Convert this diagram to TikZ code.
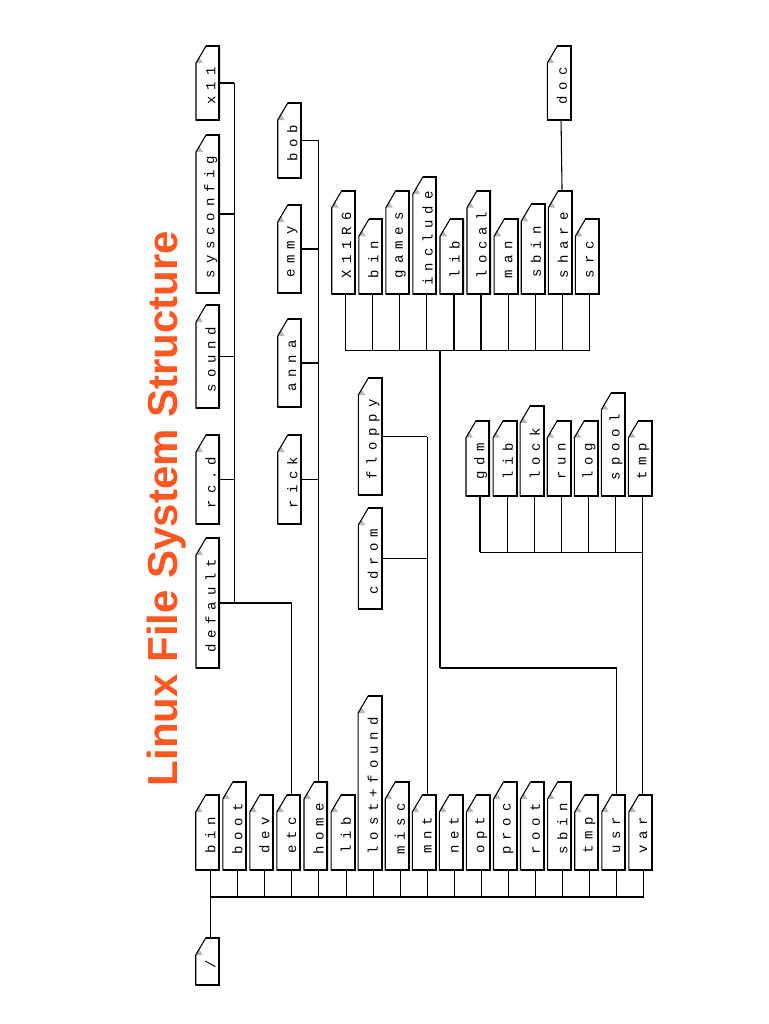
\documentclass[tikz,border=0pt]{standalone}
\usepackage{fontspec}
\newfontfamily\fnt[LetterSpace=42]{Liberation Mono}
\newfontfamily\titlefont{Liberation Sans}
\definecolor{titlecol}{RGB}{255,87,34}
\tikzset{
  filenode/.style={draw=none, inner sep=0pt, outer sep=0pt, minimum width=17.6pt},
  fnlabel/.style={xshift=2.2pt, yshift=-2.2pt, rotate=90, inner sep=0pt,
    font=\fnt\fontsize{10.5}{11}\selectfont},
  vline/.style={line width=0.8pt},
  hline/.style={line width=1.3pt},
  busline/.style={line width=2pt},
  fileedge/.style={line width=0.8pt, line join=miter},
  fileshadow/.style={line width=1.5pt, line join=miter},
  foldfill/.style={fill=gray!55},
}
\newcommand\mkfile[5]{%
  \node[filenode, minimum height={(#4-#3)*0.75pt}, label={[fnlabel]center:#5}] (#1) at ({#2+11.75},{(#3+#4)/2}) {};
  \fill[foldfill] ([shift={(0,17)}]#1.north west) -- ([shift={(3,11)}]#1.north west) -- ([shift={(7,17)}]#1.north west) -- cycle;
  \draw[fileedge] ([shift={(0,17)}]#1.north west) -- ([shift={(10,0)}]#1.north west) -- (#1.north east) -- (#1.south east) -- (#1.south west) -- cycle;
  \draw[fileshadow] ([shift={(10,0)}]#1.north west) -- (#1.north east) -- (#1.south east) -- (#1.south west);
}
\begin{document}
\begin{tikzpicture}[x=0.75pt,y=-0.75pt]
\fill[white] (0,0) rectangle (768,1024);
\useasboundingbox (0,0) rectangle (768,1024);

% title
\node[font=\titlefont\bfseries\fontsize{31.5}{36}\selectfont, text=titlecol, rotate=90, anchor=base, inner sep=0pt] (title) at (177,508.5) {Linux File System Structure};

% root
\mkfile{slash}{195.7}{938}{985}{/}

% main column
\mkfile{bin}{195.7}{795}{870}{bin}
\mkfile{boot}{222.8}{782}{870}{boot}
\mkfile{dev}{249.8}{795}{870}{dev}
\mkfile{etc}{276.9}{795}{870}{etc}
\mkfile{home}{304.0}{782}{870}{home}
\mkfile{lib}{331.1}{795}{870}{lib}
\mkfile{lostfound}{358.1}{696}{870}{lost+found}
\mkfile{misc}{385.2}{782}{870}{misc}
\mkfile{mnt}{412.3}{795}{870}{mnt}
\mkfile{net}{439.3}{795}{870}{net}
\mkfile{opt}{466.4}{795}{870}{opt}
\mkfile{proc}{493.5}{782}{870}{proc}
\mkfile{root}{520.5}{782}{870}{root}
\mkfile{sbin}{547.6}{782}{870}{sbin}
\mkfile{tmp}{574.7}{795}{870}{tmp}
\mkfile{usr}{601.8}{795}{870}{usr}
\mkfile{var}{628.8}{795}{870}{var}

% etc subtree
\mkfile{x11}{196}{46}{120}{x11}
\mkfile{sysconfig}{196}{135}{293}{sysconfig}
\mkfile{sound}{196}{305}{408}{sound}
\mkfile{rcd}{196}{435}{524}{rc.d}
\mkfile{default}{196}{538}{668}{default}

% home subtree
\mkfile{bob}{277.7}{103}{178}{bob}
\mkfile{emmy}{277.7}{205}{293}{emmy}
\mkfile{anna}{277.7}{319}{407}{anna}
\mkfile{rick}{277.7}{435}{524}{rick}

% mnt subtree
\mkfile{floppy}{358.3}{378}{495}{floppy}
\mkfile{cdrom}{358.3}{508}{609}{cdrom}

% usr subtree
\mkfile{x11r6}{331.7}{190.7}{294}{X11R6}
\mkfile{ubin}{358.8}{219.3}{294}{bin}
\mkfile{games}{385.8}{190.7}{294}{games}
\mkfile{include}{412.9}{177}{294}{include}
\mkfile{ulib}{440.0}{219.3}{294}{lib}
\mkfile{local}{467.0}{190.7}{294}{local}
\mkfile{man}{494.1}{219.3}{294}{man}
\mkfile{usbin}{521.2}{204.3}{294}{sbin}
\mkfile{share}{548.3}{190.7}{294}{share}
\mkfile{src}{575.3}{219.3}{294}{src}
\mkfile{doc}{547.3}{46}{120}{doc}

% var subtree
\mkfile{gdm}{466.0}{420.7}{496}{gdm}
\mkfile{vlib}{493.1}{420.7}{496}{lib}
\mkfile{lock}{520.1}{406}{496}{lock}
\mkfile{run}{547.2}{420.7}{496}{run}
\mkfile{log}{574.3}{420.7}{496}{log}
\mkfile{spool}{601.3}{392.7}{496}{spool}
\mkfile{vtmp}{628.4}{420.7}{496}{tmp}

% ---- connectors ----
\coordinate (mb) at (0,897);
\foreach \n in {bin,boot,dev,etc,home,lib,lostfound,misc,mnt,net,opt,proc,root,sbin,tmp,usr,var}
  \draw[vline] ([xshift=2.4pt]\n.south) -- ([xshift=2.4pt]\n.south |- mb);
\draw[busline] ([xshift=2.4pt]bin.south |- mb) -- ([xshift=2.4pt]var.south |- mb);
\draw[vline] ([xshift=2.4pt]bin.south |- mb) -- ([xshift=2.4pt]slash.north);

% etc
\coordinate (ej) at (234.3,0);
\draw[vline] (x11.east -| ej) -- (default.east -| ej);
\foreach \n in {x11,sysconfig,sound,rcd}
  \draw[hline] (\n.east) -- (\n.east -| ej);
\draw[hline] (default.east) -- ([xshift=2.4pt]default.east -| etc.north);
\draw[vline] ([xshift=2.4pt]default.east -| etc.north) -- ([xshift=2.4pt]etc.north);

% home
\draw[vline] ([xshift=2.4pt]bob.east -| home.north) -- ([xshift=2.4pt]home.north);
\foreach \n in {bob,emmy,anna,rick}
  \draw[hline] (\n.east) -- ([xshift=2.4pt]\n.east -| home.north);

% mnt
\draw[vline] ([xshift=2.4pt]floppy.east -| mnt.north) -- ([xshift=2.4pt]mnt.north);
\foreach \n in {floppy,cdrom}
  \draw[hline] (\n.east) -- ([xshift=2.4pt]\n.east -| mnt.north);

% usr
\coordinate (ub) at (0,350.7);
\coordinate (uj) at (440,667.7);
\foreach \n in {x11r6,ubin,games,include,ulib,local,man,usbin,share,src}
  \draw[vline] ([xshift=1.7pt]\n.south) -- ([xshift=1.7pt]\n.south |- ub);
\draw[vline] ([xshift=1.7pt]x11r6.south |- ub) -- ([xshift=1.7pt]src.south |- ub);
\draw[vline] (uj |- ub) -- (uj);
\draw[hline] (uj) -- ([xshift=2.4pt]uj -| usr.north);
\draw[vline] ([xshift=2.4pt]uj -| usr.north) -- ([xshift=2.4pt]usr.north);
\draw[vline] ([xshift=1.5pt]doc.south) -- ([xshift=1.5pt]share.north);

% var
\coordinate (vb) at (0,552.3);
\foreach \n in {gdm,vlib,lock,run,log,spool,vtmp}
  \draw[vline] ([xshift=1.7pt]\n.south) -- ([xshift=1.7pt]\n.south |- vb);
\draw[vline] ([xshift=1.7pt]gdm.south |- vb) -- ([xshift=1.7pt]vtmp.south |- vb);
\draw[vline] ([xshift=1.7pt]vtmp.south |- vb) -- ([xshift=1.7pt]vtmp.south |- var.north);
\end{tikzpicture}
\end{document}
